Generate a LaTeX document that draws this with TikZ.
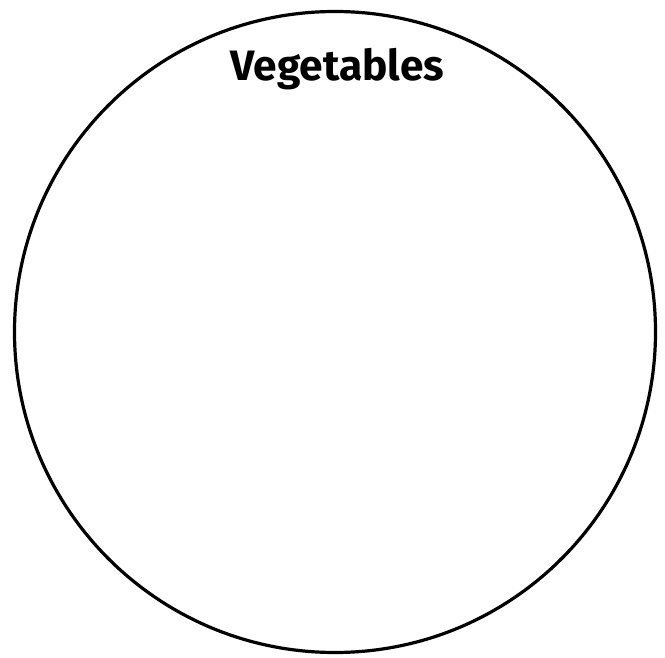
\documentclass[tikz,border=0pt]{standalone}
\usepackage{fontspec}
\setmainfont{Fira Sans}
\begin{document}
\begin{tikzpicture}[x=1pt,y=-1pt, every node/.style={font=\bfseries\fontsize{42.5}{50}\selectfont}]
\useasboundingbox (0,0) rectangle (665,658);
\node[draw,circle,line width=3.2pt,minimum size=641pt,inner sep=0pt] (veg) at (335,332) {};
\node[anchor=base,inner sep=0pt] (title) at (337.5,81) {Vegetables};
\end{tikzpicture}
\end{document}
